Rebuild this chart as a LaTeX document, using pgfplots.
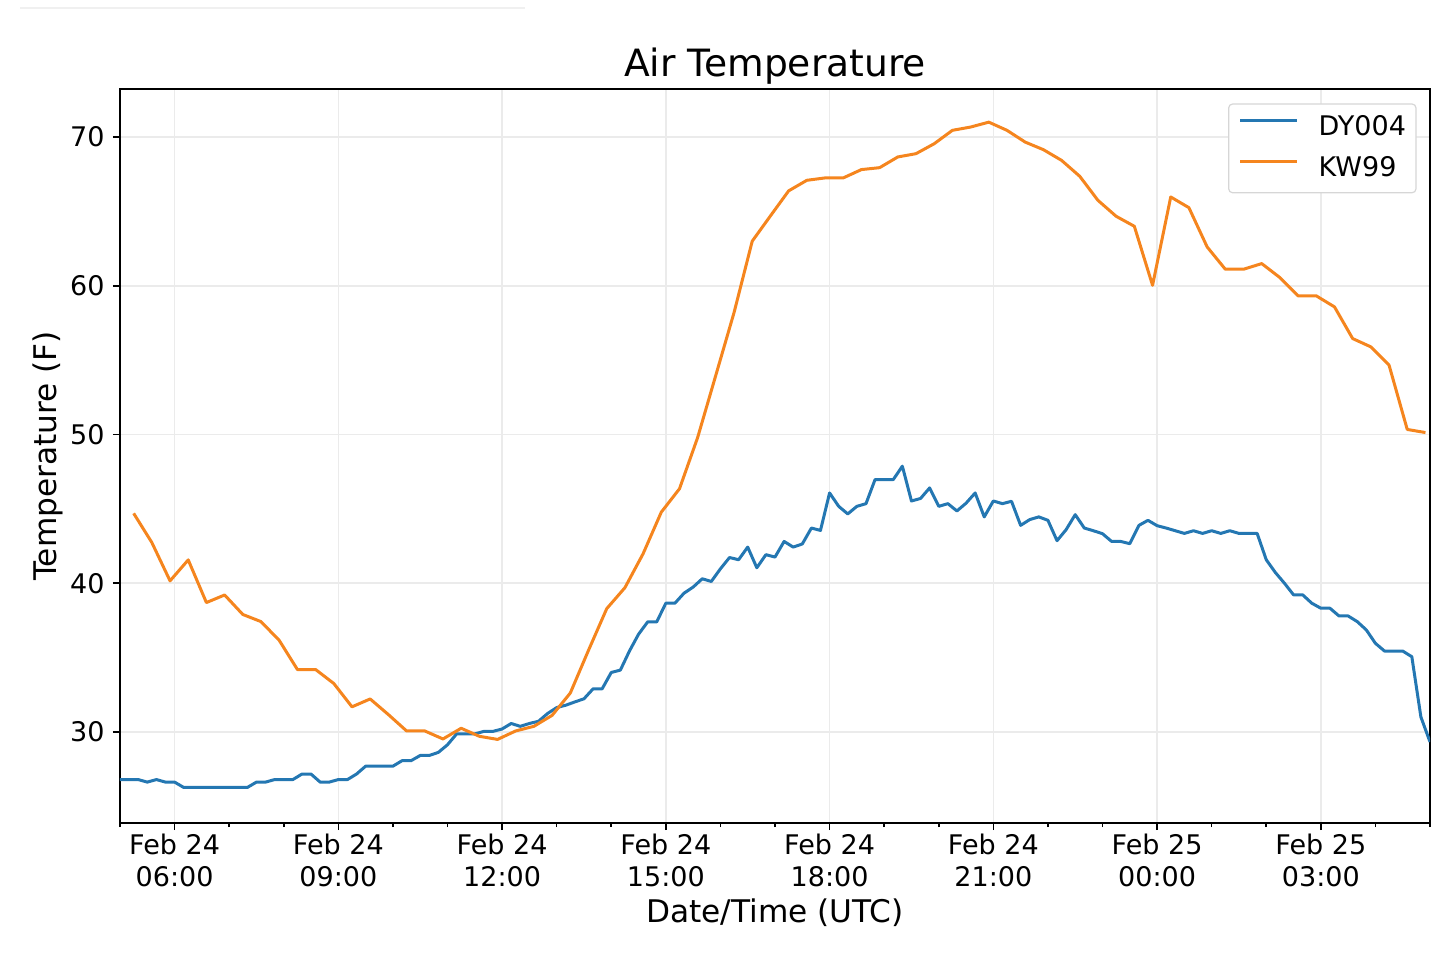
\documentclass[border=0pt]{standalone}
\usepackage{fontspec}
\setmainfont{DejaVu Sans}
\usepackage{pgfplots}
\pgfplotsset{compat=1.18}
\usepackage{pgfplotstable}
\definecolor{mplblue}{RGB}{36,119,178}
\definecolor{mplorange}{RGB}{245,133,30}
\definecolor{gridc}{RGB}{235,235,235}
\definecolor{legframe}{RGB}{214,214,214}

\pgfplotstableread{
h T
5.000 26.80
5.167 26.80
5.333 26.80
5.500 26.63
5.667 26.80
5.833 26.63
6.000 26.63
6.167 26.27
6.333 26.27
6.500 26.27
6.667 26.27
6.833 26.27
7.000 26.27
7.167 26.27
7.333 26.27
7.500 26.63
7.667 26.63
7.833 26.80
8.000 26.80
8.167 26.80
8.333 27.17
8.500 27.17
8.667 26.63
8.833 26.63
9.000 26.80
9.167 26.80
9.333 27.17
9.500 27.70
9.667 27.70
9.833 27.70
10.000 27.70
10.167 28.07
10.333 28.07
10.500 28.42
10.667 28.42
10.833 28.63
11.000 29.14
11.167 29.87
11.333 29.87
11.500 29.87
11.667 30.04
11.833 30.04
12.000 30.20
12.167 30.57
12.333 30.38
12.500 30.57
12.667 30.72
12.833 31.24
13.000 31.64
13.167 31.80
13.333 32.02
13.500 32.23
13.667 32.90
13.833 32.90
14.000 34.00
14.167 34.16
14.333 35.44
14.500 36.57
14.667 37.40
14.833 37.40
15.000 38.66
15.167 38.66
15.333 39.33
15.500 39.74
15.667 40.30
15.833 40.12
16.000 40.97
16.167 41.73
16.333 41.58
16.500 42.43
16.667 41.04
16.833 41.92
17.000 41.76
17.167 42.81
17.333 42.43
17.500 42.64
17.667 43.71
17.833 43.55
18.000 46.07
18.167 45.17
18.333 44.66
18.500 45.17
18.667 45.35
18.833 46.97
19.000 46.97
19.167 46.97
19.333 47.87
19.500 45.53
19.667 45.70
19.833 46.41
20.000 45.17
20.167 45.35
20.333 44.86
20.500 45.38
20.667 46.07
20.833 44.46
21.000 45.53
21.167 45.35
21.333 45.51
21.500 43.89
21.667 44.28
21.833 44.46
22.000 44.23
22.167 42.86
22.333 43.60
22.500 44.61
22.667 43.71
22.833 43.53
23.000 43.33
23.167 42.81
23.333 42.81
23.500 42.66
23.667 43.89
23.833 44.23
24.000 43.87
24.167 43.71
24.333 43.53
24.500 43.35
24.667 43.53
24.833 43.35
25.000 43.53
25.167 43.35
25.333 43.53
25.500 43.35
25.667 43.35
25.833 43.35
26.000 41.58
26.167 40.72
26.333 40.00
26.500 39.22
26.667 39.22
26.833 38.66
27.000 38.32
27.167 38.32
27.333 37.80
27.500 37.80
27.667 37.42
27.833 36.86
28.000 35.96
28.167 35.44
28.333 35.44
28.500 35.44
28.667 35.06
28.833 31.01
29.000 29.33
}\dyfour

\pgfplotstableread{
h T
5.250 44.70
5.583 42.74
5.917 40.16
6.250 41.57
6.583 38.70
6.917 39.21
7.250 37.90
7.583 37.42
7.917 36.16
8.250 34.20
8.583 34.20
8.917 33.26
9.250 31.69
9.583 32.22
9.917 31.17
10.250 30.07
10.583 30.07
10.917 29.53
11.250 30.25
11.583 29.71
11.917 29.50
12.250 30.07
12.583 30.38
12.917 31.12
13.250 32.62
13.583 35.49
13.917 38.29
14.250 39.70
14.583 41.98
14.917 44.78
15.250 46.35
15.583 49.80
15.917 54.00
16.250 58.20
16.583 63.00
16.917 64.70
17.250 66.38
17.583 67.09
17.917 67.25
18.250 67.25
18.583 67.81
18.917 67.94
19.250 68.66
19.583 68.88
19.917 69.55
20.250 70.45
20.583 70.67
20.917 71.00
21.250 70.45
21.583 69.66
21.917 69.15
22.250 68.43
22.583 67.36
22.917 65.74
23.250 64.67
23.583 64.00
23.917 60.03
24.250 65.97
24.583 65.25
24.917 62.61
25.250 61.11
25.583 61.11
25.917 61.49
26.250 60.55
26.583 59.32
26.917 59.32
27.250 58.58
27.583 56.45
27.917 55.89
28.250 54.66
28.583 50.34
28.917 50.13
}\kwnn

\begin{document}
\begin{tikzpicture}
\useasboundingbox (-60pt,-67.5pt) rectangle (660pt,411.5pt);
\draw[line width=0.8pt, color={rgb,255:red,240;green,240;blue,240}] (-50pt,407.5pt) -- (202.5pt,407.5pt);
\begin{axis}[
  scale only axis, width=655pt, height=367pt,
  at={(0pt,0pt)}, anchor=south west,
  xmin=5, xmax=29, ymin=23.88, ymax=73.23,
  xtick={6,9,12,15,18,21,24,27},
  xticklabels={{Feb 24\\06:00},{Feb 24\\09:00},{Feb 24\\12:00},{Feb 24\\15:00},{Feb 24\\18:00},{Feb 24\\21:00},{Feb 25\\00:00},{Feb 25\\03:00}},
  minor xtick={5,7,8,10,11,13,14,16,17,19,20,22,23,25,26,28,29},
  ytick={30,40,50,60,70},
  grid=major,
  major grid style={gridc, line width=0.75pt},
  tick align=outside,
  tick pos=left,
  major tick length=3.5pt, minor tick length=2pt,
  tick style={black, line width=0.8pt},
  minor tick style={black, line width=0.8pt},
  axis line style={black, line width=0.9pt},
  /pgf/number format/assume math mode=true,
  xticklabel style={align=center, font=\fontsize{13.5}{16}\selectfont, inner sep=0pt, anchor=north, yshift=-1.7pt},
  yticklabel style={font=\fontsize{13.5}{16}\selectfont, inner sep=0pt, anchor=east, xshift=-4pt},
  title={Air Temperature},
  every axis title/.style={at={(axis description cs:0.5,1.0164)}, anchor=base, font=\fontsize{18.8}{22}\selectfont},
  xlabel={Date/Time (UTC)},
  every axis x label/.style={at={(axis description cs:0.5,-0.1362)}, anchor=base, font=\fontsize{15.6}{18}\selectfont},
  ylabel={Temperature (F)},
  every axis y label/.style={at={(axis description cs:-0.0481,0.5)}, rotate=90, anchor=base, font=\fontsize{15.6}{18}\selectfont},
  legend cell align=left,
  legend image code/.code={\draw[#1, line width=1.5pt] (0pt,3.6pt) -- (28.5pt,3.6pt);},
  legend style={at={(axis description cs:1,1)}, anchor=north east, xshift=-6.7pt, yshift=-7.2pt,
    draw=legframe, line width=0.6pt, rounded corners=2pt, fill=white,
    font=\fontsize{13.5}{16}\selectfont, inner xsep=5pt, inner ysep=5.8pt,
    row sep=8.8pt, column sep=10pt,
    nodes={inner sep=0pt, text height=9.8pt, text depth=2.2pt}},
]
\addplot[mplblue, line width=1.5pt, line join=round, no marks] table[x=h, y=T] {\dyfour};
\addlegendentry{DY004}
\addplot[mplorange, line width=1.5pt, line join=round, no marks] table[x=h, y=T] {\kwnn};
\addlegendentry{KW99}
\end{axis}
\end{tikzpicture}
\end{document}
